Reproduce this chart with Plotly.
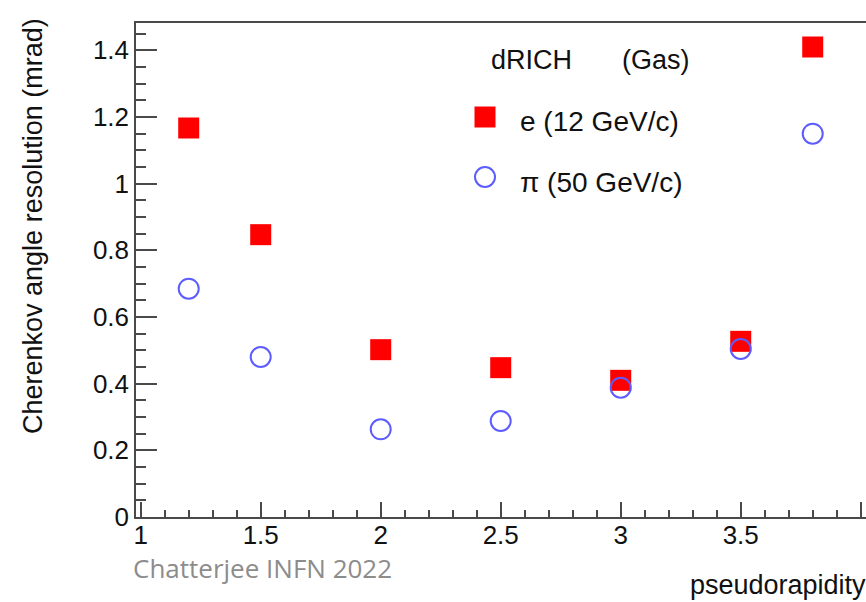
import plotly.graph_objects as go

# Data
eta = [1.2, 1.5, 2.0, 2.5, 3.0, 3.5, 3.8]
res_e = [1.167, 0.847, 0.502, 0.448, 0.410, 0.527, 1.410]     # e (12 GeV/c)
res_pi = [0.685, 0.480, 0.263, 0.288, 0.388, 0.504, 1.150]    # pi (50 GeV/c)

x_ticks = [1, 1.5, 2, 2.5, 3, 3.5, 4]
x_ticklabels = ["1", "1.5", "2", "2.5", "3", "3.5", "4"]
y_ticks = [0, 0.2, 0.4, 0.6, 0.8, 1.0, 1.2, 1.4]
y_ticklabels = ["0", "0.2", "0.4", "0.6", "0.8", "1", "1.2", "1.4"]

FONT = "Liberation Sans, Arial, Helvetica, sans-serif"
AX = "#4a4a4a"
RED = "#ff0000"
BLUE = "#5c5cff"

fig = go.Figure()
fig.add_trace(go.Scatter(
    x=eta, y=res_e, mode="markers", name="e (12 GeV/c)",
    marker=dict(symbol="square", size=21, color=RED, line=dict(width=0)),
    showlegend=False))
fig.add_trace(go.Scatter(
    x=eta, y=res_pi, mode="markers", name="π (50 GeV/c)",
    marker=dict(symbol="circle-open", size=20, color=BLUE, line=dict(width=2, color=BLUE)),
    showlegend=False))

W, H = 866, 602
L, R, T, B = 136, 0, 23, 85

fig.update_layout(
    width=W, height=H,
    margin=dict(l=L, r=R, t=T, b=B, pad=0),
    paper_bgcolor="white", plot_bgcolor="white",
    font=dict(family=FONT, size=26, color="#111111"),
    showlegend=False,
)
fig.update_xaxes(
    range=[0.9804, 4.022], showgrid=False, zeroline=False,
    showline=True, linecolor=AX, linewidth=1.5, mirror=True,
    ticks="inside", ticklen=15, tickwidth=1.5, tickcolor=AX,
    tickvals=x_ticks, ticktext=x_ticklabels, ticklabelstandoff=-6,
    tickfont=dict(family=FONT, size=26, color="#111111"),
    minor=dict(ticks="inside", ticklen=7, tickwidth=1.5, tickcolor=AX, dtick=0.1, tick0=1, showgrid=False),
)
fig.update_yaxes(
    range=[0, 1.482], showgrid=False, zeroline=False,
    showline=True, linecolor=AX, linewidth=1.5,
    ticks="inside", ticklen=21, tickwidth=1.5, tickcolor=AX,
    tickvals=y_ticks, ticktext=y_ticklabels,
    tickfont=dict(family=FONT, size=26, color="#111111"),
    minor=dict(ticks="inside", ticklen=10, tickwidth=1.5, tickcolor=AX, dtick=0.05, tick0=0, showgrid=False),
)

def px2paper_x(px):
    return (px - L) / (W - L - R)

def px2paper_y(py):
    return (H - B - py) / (H - T - B)

ann = []
# Axis titles
ann.append(dict(text="Cherenkov angle resolution (mrad)", textangle=-90,
                xref="paper", yref="paper", x=px2paper_x(33), y=px2paper_y(226),
                xanchor="center", yanchor="middle", showarrow=False,
                font=dict(family=FONT, size=27, color="#111111")))
ann.append(dict(text="pseudorapidity", xref="paper", yref="paper",
                x=px2paper_x(868), y=px2paper_y(585), xanchor="right", yanchor="middle",
                showarrow=False, font=dict(family=FONT, size=27, color="#111111")))
# Source note
ann.append(dict(text="Chatterjee INFN 2022", xref="paper", yref="paper",
                x=px2paper_x(131), y=px2paper_y(568), xanchor="left", yanchor="middle",
                showarrow=False, font=dict(family="Open Sans, Noto Sans, sans-serif", size=26, color="#8c8c8c")))
# Legend text
ann.append(dict(text="dRICH", xref="paper", yref="paper",
                x=px2paper_x(489), y=px2paper_y(60), xanchor="left", yanchor="middle",
                showarrow=False, font=dict(family=FONT, size=27, color="#111111")))
ann.append(dict(text="(Gas)", xref="paper", yref="paper",
                x=px2paper_x(620), y=px2paper_y(60), xanchor="left", yanchor="middle",
                showarrow=False, font=dict(family=FONT, size=27, color="#111111")))
ann.append(dict(text="e (12 GeV/c)", xref="paper", yref="paper",
                x=px2paper_x(518), y=px2paper_y(122), xanchor="left", yanchor="middle",
                showarrow=False, font=dict(family=FONT, size=28, color="#111111")))
ann.append(dict(text="π (50 GeV/c)", xref="paper", yref="paper",
                x=px2paper_x(518), y=px2paper_y(182), xanchor="left", yanchor="middle",
                showarrow=False, font=dict(family=FONT, size=28, color="#111111")))
fig.update_layout(annotations=ann)

# Legend keys (paper coordinates)
shapes = []
cx, cy_sq, cy_ci = 485, 117, 177
h = 10.5
shapes.append(dict(type="rect", xref="paper", yref="paper",
                   x0=px2paper_x(cx - h), x1=px2paper_x(cx + h),
                   y0=px2paper_y(cy_sq + h), y1=px2paper_y(cy_sq - h),
                   fillcolor=RED, line=dict(width=0)))
r = 10
shapes.append(dict(type="circle", xref="paper", yref="paper",
                   x0=px2paper_x(cx - r), x1=px2paper_x(cx + r),
                   y0=px2paper_y(cy_ci + r), y1=px2paper_y(cy_ci - r),
                   fillcolor="rgba(0,0,0,0)", line=dict(width=2, color=BLUE)))
fig.update_layout(shapes=shapes)

fig.write_html("out.html")
